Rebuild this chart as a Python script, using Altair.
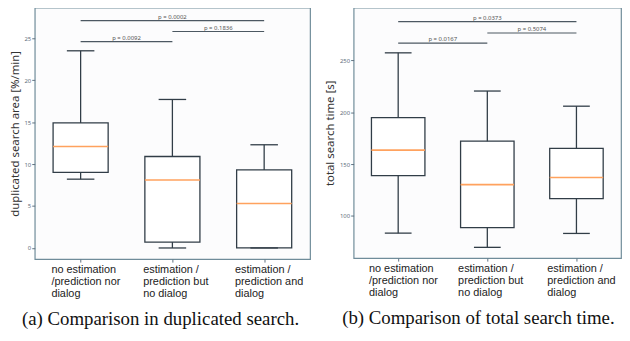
import json
import altair as alt
import pandas as pd

# ---- data -------------------------------------------------------------
categories = ["no estimation|/prediction nor|dialog",
              "estimation /|prediction but|no dialog",
              "estimation /|prediction and|dialog"]
positions = [0, 1, 2]

dup_whislo = [8.2, 0.0, 0.0]
dup_q1 = [9.0, 0.7, 0.0]
dup_med = [12.1, 8.1, 5.3]
dup_q3 = [14.9, 10.9, 9.3]
dup_whishi = [23.5, 17.7, 12.3]
dup_sig_from = [0, 1, 0]
dup_sig_to = [2, 2, 1]
dup_sig_y = [27.1, 25.8, 24.6]
dup_sig_text = ["p = 0.0002", "p = 0.1836", "p = 0.0092"]
dup_ticks = [0, 5, 10, 15, 20, 25]

time_whislo = [83.5, 69.8, 83.2]
time_q1 = [139.0, 88.9, 116.8]
time_med = [163.5, 130.2, 137.1]
time_q3 = [194.7, 172.1, 165.2]
time_whishi = [257.2, 220.4, 205.8]
time_sig_from = [0, 1, 0]
time_sig_to = [2, 2, 1]
time_sig_y = [287.2, 276.3, 266.5]
time_sig_text = ["p = 0.0373", "p = 0.5074", "p = 0.0167"]
time_ticks = [100, 150, 200, 250]

BOX = "#313d47"
MED = "#ffa25e"
SIG = "#4c5862"
TICKC = "#5f7080"
FONT = "Noto Sans"

label_expr = "split(" + json.dumps(categories) + "[datum.value], '|')"


def panel(whislo, q1, med, q3, whishi, sfrom, sto, sy, stext, ydom, yticks,
          ytitle, caption, w, h, cap_dx):
    df = pd.DataFrame({"pos": positions, "whislo": whislo, "q1": q1,
                       "med": med, "q3": q3, "whishi": whishi})
    df["lo"] = df["pos"] - 0.3
    df["hi"] = df["pos"] + 0.3
    df["clo"] = df["pos"] - 0.15
    df["chi"] = df["pos"] + 0.15
    sg = pd.DataFrame({"a": sfrom, "b": sto, "y": sy, "t": stext})
    sg["m"] = (sg["a"] + sg["b"]) / 2

    xs = alt.Scale(domain=[-0.5, 2.5], nice=False, zero=False)
    ys = alt.Scale(domain=ydom, nice=False, zero=False)
    yaxis = alt.Axis(values=yticks, grid=False, domain=False, tickSize=3,
                     tickColor=TICKC, labelColor=TICKC, labelFontSize=6,
                     labelFont=FONT, labelPadding=1, title=ytitle,
                     titleFont=FONT, titleFontSize=11.5,
                     titleFontWeight="normal", titleColor="#333333",
                     titlePadding=4)
    xaxis = alt.Axis(values=positions, grid=False, domain=False, tickSize=3,
                     tickColor=TICKC, labelExpr=label_expr,
                     labelAlign="left", labelOffset=-30, labelBaseline="top",
                     labelFont="Liberation Sans", labelFontSize=11,
                     labelColor="#222222",
                     labelLineHeight=12, labelPadding=2, labelOverlap=False,
                     labelBound=False, title=None)

    def X(f):
        return alt.X(f, type="quantitative", scale=xs, axis=xaxis)

    def Y(f):
        return alt.Y(f, type="quantitative", scale=ys, axis=yaxis)

    base = alt.Chart(df)
    box = base.mark_bar(fill="white", stroke=BOX, strokeWidth=1.3).encode(
        x=X("lo"), x2="hi", y=Y("q1"), y2="q3")
    wlo = base.mark_rule(color=BOX, strokeWidth=1.3).encode(
        x=X("pos"), y=Y("whislo"), y2="q1")
    whi = base.mark_rule(color=BOX, strokeWidth=1.3).encode(
        x=X("pos"), y=Y("q3"), y2="whishi")
    clo = base.mark_rule(color=BOX, strokeWidth=1.3).encode(
        x=X("clo"), x2="chi", y=Y("whislo"))
    chi = base.mark_rule(color=BOX, strokeWidth=1.3).encode(
        x=X("clo"), x2="chi", y=Y("whishi"))
    medr = base.mark_rule(color=MED, strokeWidth=1.6).encode(
        x=X("lo"), x2="hi", y=Y("med"))
    sbase = alt.Chart(sg)
    srule = sbase.mark_rule(color=SIG, strokeWidth=1.2).encode(
        x=X("a"), x2="b", y=Y("y"))
    stxt = sbase.mark_text(fontSize=6, font=FONT, color="#555555",
                           baseline="bottom", dy=-1).encode(
        x=X("m"), y=Y("y"), text="t:N")

    return alt.layer(box, wlo, whi, clo, chi, medr, srule, stxt).properties(
        width=w, height=h,
        title=alt.TitleParams(caption, orient="bottom", anchor="middle",
                              font="Liberation Serif", fontSize=19,
                              fontWeight="normal", color="#111111",
                              offset=12, dx=cap_dx))


left = panel(dup_whislo, dup_q1, dup_med, dup_q3, dup_whishi, dup_sig_from,
             dup_sig_to, dup_sig_y, dup_sig_text, [-1.33, 28.65], dup_ticks,
             "duplicated search area [%/min]",
             "(a) Comparison in duplicated search.", 278, 254, -12)
right = panel(time_whislo, time_q1, time_med, time_q3, time_whishi,
              time_sig_from, time_sig_to, time_sig_y, time_sig_text,
              [59.4, 300.8], time_ticks, "total search time [s]",
              "(b) Comparison of total search time.", 270, 253, -9)

chart = alt.hconcat(left, right, spacing=44, bounds="flush").properties(
    padding={"left": 0, "top": -3, "right": 0, "bottom": 0},
    background="white",
).configure_view(stroke="#6f8c9a", strokeWidth=1.2, fill="#fcfcfd")

chart.save("out.html", embed_options={"renderer": "svg", "actions": False})
